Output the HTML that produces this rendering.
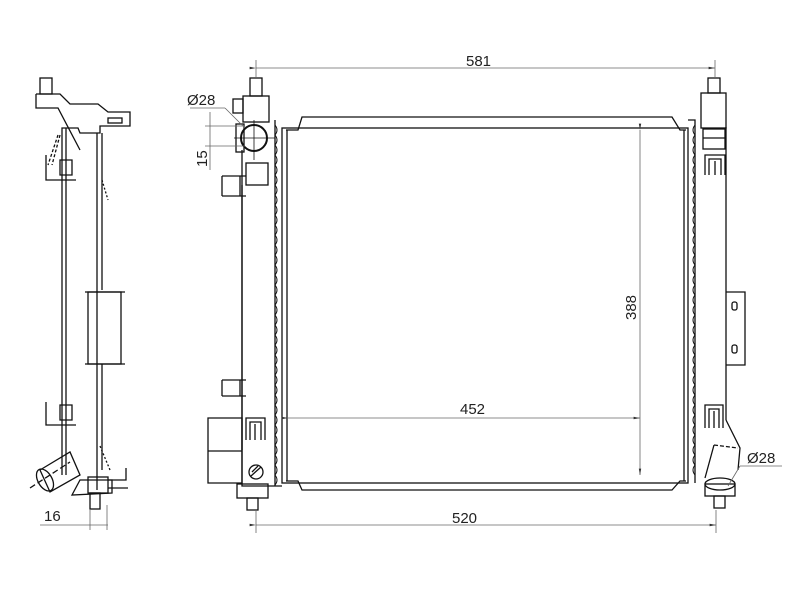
<!DOCTYPE html>
<html><head><meta charset="utf-8"><style>
html,body{margin:0;padding:0;background:#fff;}
svg{display:block;}
text{font-family:"Liberation Sans",sans-serif;font-size:15px;fill:#222;}
</style></head><body>
<svg width="800" height="600" viewBox="0 0 800 600" xmlns="http://www.w3.org/2000/svg">
<defs>
<marker id="a" markerWidth="8" markerHeight="6" refX="8" refY="3" orient="auto"><path d="M0,1.5 L8,3 L0,4.5z" fill="#333"/></marker>
</defs>
<g fill="none" stroke="#111" stroke-width="1.3">
<!-- ===== side view ===== -->
<rect x="40" y="78" width="12" height="16"/>
<path d="M36,94 H60 L70,104 H98 L108,112 H130 V126 H100 V133 H80 L78,128 H62 V475"/>
<path d="M36,94 V108 H58 L80,150 M36,108 h4"/>
<rect x="108" y="118" width="14" height="5"/>
<line x1="66" y1="128" x2="66" y2="475"/>
<line x1="97" y1="133" x2="97" y2="490"/>
<line x1="102" y1="133" x2="102" y2="290"/>
<line x1="102" y1="364" x2="102" y2="470"/>
<path d="M60,135 L52,165 M58,135 L48,165" stroke-dasharray="3,2"/>
<path d="M46,155 V180 H76 M60,175 h12 v-15 h-12z"/>
<path d="M102,180 L108,200" stroke-dasharray="2,2"/>
<rect x="88" y="292" width="33" height="72"/>
<path d="M85,292 h40 M85,364 h40"/>
<path d="M46,402 V425 H76 M60,420 h12 v-15 h-12z"/>
<path d="M40,470 L70,452 L80,475 L50,492z"/>
<ellipse cx="45" cy="480" rx="7" ry="12" transform="rotate(-30 45 480)"/>
<path d="M30,488 L70,462" stroke-dasharray="6,3"/>
<rect x="88" y="477" width="20" height="16"/>
<path d="M72,495 L80,480 H112 V493 Z"/>
<rect x="90" y="493" width="10" height="16"/>
<path d="M108,480 h18 v-12 M108,488 h20" />
<path d="M100,446 L110,470" stroke-dasharray="2,2"/>
<!-- ===== front view core ===== -->
<rect x="282" y="128" width="406" height="355"/>
<path d="M286,130 H298 L302,117 H672 L680,130 H686"/>
<path d="M286,481 H298 L302,490 H672 L680,481 H686"/>
<line x1="287" y1="130" x2="287" y2="481"/>
<line x1="684" y1="130" x2="684" y2="481"/>
<!-- left tank -->
<path d="M242,150 V486 H282 M275,120 V486"/>
<path d="M275,125 q4,5 0,10 q4,5 0,10 q4,5 0,10 q4,5 0,10 q4,5 0,10 q4,5 0,10 q4,5 0,10 q4,5 0,10 q4,5 0,10 q4,5 0,10 q4,5 0,10 q4,5 0,10 q4,5 0,10 q4,5 0,10 q4,5 0,10 q4,5 0,10 q4,5 0,10 q4,5 0,10 q4,5 0,10 q4,5 0,10 q4,5 0,10 q4,5 0,10 q4,5 0,10 q4,5 0,10 q4,5 0,10 q4,5 0,10 q4,5 0,10 q4,5 0,10 q4,5 0,10 q4,5 0,10 q4,5 0,10 q4,5 0,10 q4,5 0,10 q4,5 0,10 q4,5 0,10 q4,5 0,10" stroke-width="1"/>
<rect x="250" y="78" width="12" height="18"/>
<rect x="243" y="96" width="26" height="26"/>
<rect x="233" y="99" width="10" height="14"/>
<circle cx="254" cy="138" r="13" stroke-width="2"/>
<path d="M254,120 V160 M234,138 H275" stroke-width="0.8"/>
<rect x="236" y="124" width="8" height="28"/>
<rect x="246" y="163" width="22" height="22"/>
<path d="M222,176 H246 M222,196 H246 M222,176 V196 M240,176 v20 M242,185 V450"/>
<path d="M222,380 H246 M222,396 H246 M222,380 V396 M240,380 v16"/>
<path d="M208,418 H242 V483 H208Z M208,451 H242"/>
<path d="M246,440 V418 H265 V440 M250,440 V422 H261 V440 M255,424 V440"/>
<circle cx="256" cy="472" r="7"/>
<path d="M251,476 L261,467 M252,472 L258,466"/>
<rect x="237" y="484" width="31" height="14"/>
<rect x="247" y="498" width="11" height="12"/>
<!-- right tank -->
<path d="M695,125 V483 M726,127 V420 M688,120 h7 v8"/>
<path d="M695,125 q-4,5 0,10 q-4,5 0,10 q-4,5 0,10 q-4,5 0,10 q-4,5 0,10 q-4,5 0,10 q-4,5 0,10 q-4,5 0,10 q-4,5 0,10 q-4,5 0,10 q-4,5 0,10 q-4,5 0,10 q-4,5 0,10 q-4,5 0,10 q-4,5 0,10 q-4,5 0,10 q-4,5 0,10 q-4,5 0,10 q-4,5 0,10 q-4,5 0,10 q-4,5 0,10 q-4,5 0,10 q-4,5 0,10 q-4,5 0,10 q-4,5 0,10 q-4,5 0,10 q-4,5 0,10 q-4,5 0,10 q-4,5 0,10 q-4,5 0,10 q-4,5 0,10 q-4,5 0,10 q-4,5 0,10 q-4,5 0,10 q-4,5 0,10" stroke-width="1"/>
<rect x="708" y="78" width="12" height="15"/>
<rect x="701" y="93" width="25" height="35"/>
<rect x="703" y="129" width="22" height="20"/>
<path d="M703,138 H725"/>
<path d="M705,175 V155 H725 V175 M709,175 V159 H721 V175 M715,161 V175"/>
<path d="M726,292 H745 V365 H726"/>
<rect x="732" y="302" width="5" height="8" rx="2"/>
<rect x="732" y="345" width="5" height="8" rx="2"/>
<path d="M705,428 V405 H723 V428 M709,428 V409 H719 V428 M714,411 V428"/>
<path d="M726,420 L740,448 L738,470 M714,445 L705,478"/>
<path d="M714,445 L738,448" stroke-dasharray="4,2"/>
<ellipse cx="720" cy="484" rx="15" ry="6"/>
<rect x="705" y="484" width="30" height="12"/>
<rect x="714" y="496" width="11" height="12"/>
</g>
<!-- dimension lines -->
<g stroke="#666" stroke-width="0.8" fill="none">
<line x1="256" y1="68" x2="715" y2="68" marker-start="url(#a)" marker-end="url(#a)"/>
<line x1="256" y1="60" x2="256" y2="78"/><line x1="715" y1="60" x2="715" y2="78"/>
<line x1="256" y1="525" x2="716" y2="525" marker-start="url(#a)" marker-end="url(#a)"/>
<line x1="256" y1="510" x2="256" y2="533"/><line x1="716" y1="510" x2="716" y2="533"/>
<line x1="288" y1="418" x2="640" y2="418" marker-start="url(#a)" marker-end="url(#a)"/>
<line x1="640" y1="130" x2="640" y2="475" marker-start="url(#a)" marker-end="url(#a)"/>
<line x1="190" y1="108" x2="225" y2="108"/><line x1="225" y1="108" x2="245" y2="128"/>
<line x1="205" y1="126" x2="245" y2="126"/><line x1="205" y1="146" x2="245" y2="146"/>
<line x1="210" y1="112" x2="210" y2="170"/>
<line x1="740" y1="466" x2="782" y2="466"/><line x1="740" y1="466" x2="728" y2="486"/>
<line x1="40" y1="525" x2="108" y2="525"/><line x1="90" y1="510" x2="90" y2="530"/><line x1="107" y1="505" x2="107" y2="530"/>
</g>
<text x="466" y="66">581</text>
<text x="452" y="523">520</text>
<text x="460" y="414">452</text>
<text x="636" y="320" transform="rotate(-90 636 320)">388</text>
<text x="187" y="105">Ø28</text>
<text x="207" y="167" transform="rotate(-90 207 167)">15</text>
<text x="747" y="463">Ø28</text>
<text x="44" y="521">16</text>
</svg>
</body></html>
